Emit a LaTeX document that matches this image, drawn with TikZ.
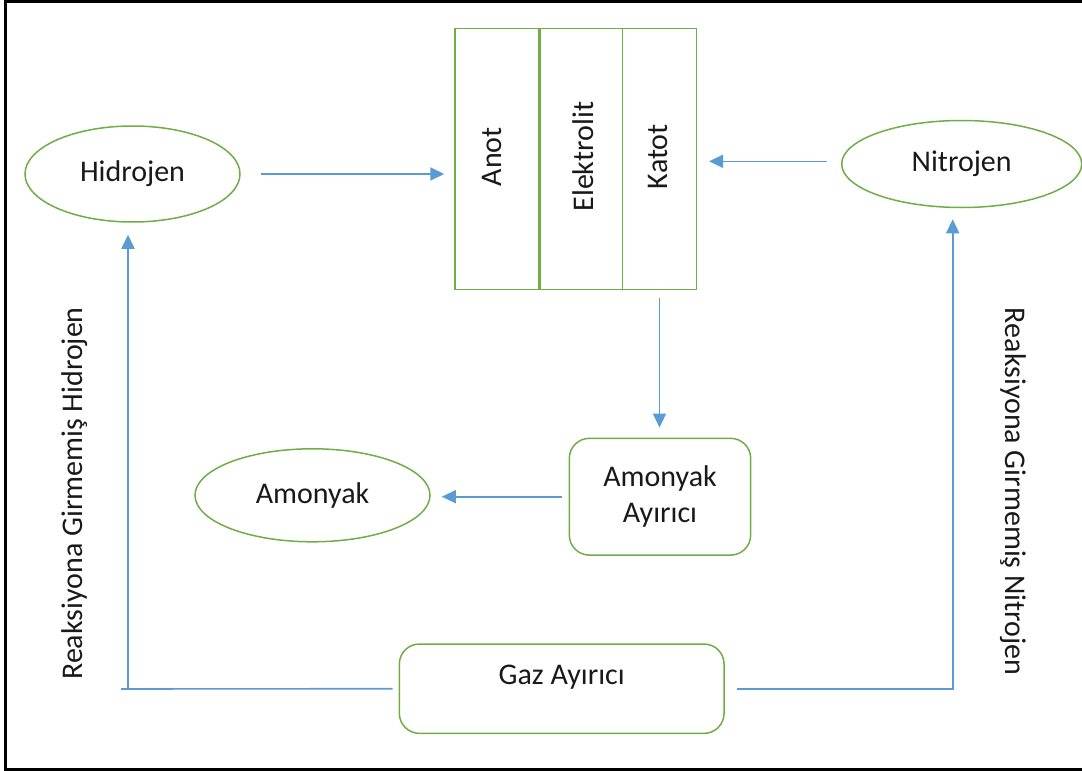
\documentclass[tikz,border=0pt]{standalone}
\usepackage{fontspec}
\setmainfont{Carlito}
\usetikzlibrary{shapes.geometric,arrows.meta}
\definecolor{grn}{HTML}{70AD47}
\definecolor{blu}{HTML}{5B9BD5}
\begin{document}
\begin{tikzpicture}[x=1pt,y=-1pt,
  every node/.style={font=\fontsize{30}{36}\selectfont, text=black!90, inner sep=0pt},
  oval/.style={ellipse, draw=grn, line width=1.5pt},
  cell/.style={rectangle, draw=grn, line width=1.5pt},
  rbox/.style={rectangle, rounded corners=20pt, draw=grn, line width=1.5pt},
  bl/.style={draw=blu, line width=1.6pt},
  arr/.style={bl, -{Triangle[length=14pt,width=13pt]}}]
\useasboundingbox (0,0) rectangle (1082,771);
\draw[line width=2.2pt] (1084,1.5) -- (5.5,1.5) -- (5.5,769.5) -- (1084,769.5);
% ellipses
\node[oval, minimum width=215pt, minimum height=96pt] (hid) at (132.5,174) {Hidrojen};
\node[oval, minimum width=240pt, minimum height=87pt] (nit) at (961.7,164) {Nitrojen};
\node[oval, minimum width=235pt, minimum height=93pt] (amo) at (312.5,495.3) {Amonyak};
% cell
\node[cell, minimum width=83.3pt, minimum height=261pt] (anot) at (496.7,158.8) {};
\node[cell, minimum width=84pt, minimum height=261pt] (elek) at (580.3,158.8) {};
\node[cell, minimum width=74.4pt, minimum height=261pt] (kat) at (659.5,158.8) {};
\draw[grn, line width=3pt] (anot.north east) -- (anot.south east);
\node[rotate=90] (anottxt) at (491.7,156.7) {Anot};
\node[rotate=90] (elektxt) at (583,156.7) {Elektrolit};
\node[rotate=90] (kattxt) at (658,156.7) {Katot};
% boxes
\node[rbox, minimum width=181.4pt, minimum height=116.7pt, align=center] (aa) at (660,496.7) {Amonyak\\Ayırıcı};
\node[rbox, minimum width=324.7pt, minimum height=89.3pt] (gaz) at (561.7,688.7) {};
\node (gaztxt) at (561.7,677) {Gaz Ayırıcı};
% side labels
\node[rotate=90] (lh) at (74.7,493.5) {Reaksiyona Girmemiş Hidrojen};
\node[rotate=-90] (ln) at (1013.3,491.7) {Reaksiyona Girmemiş Nitrojen};
% connectors
\draw[arr, shorten <=20pt, shorten >=10pt] (hid.east) -- (hid.east -| anot.west);
\coordinate (ns) at ([yshift=2.7pt]nit.west);
\draw[arr, shorten <=14pt, shorten >=11.6pt] (ns) -- (ns -| kat.east);
\draw[arr, shorten <=8pt, shorten >=10pt] (kat.south) -- (kat.south |- aa.north);
\coordinate (as) at (aa.west);
\draw[arr, shorten <=6.6pt, shorten >=11pt] (as) -- (as -| amo.east);
\coordinate (hc) at (128,689);
\draw[bl] ([xshift=-6pt]gaz.west) -- ([xshift=-7pt]hc);
\draw[arr, shorten >=12pt] (hc) -- (hc |- hid.south);
\coordinate (nc) at (952.7,688.7);
\draw[arr, shorten >=11pt] ([xshift=12pt]gaz.east) -- (nc) -- (nc |- nit.south);
\end{tikzpicture}
\end{document}
